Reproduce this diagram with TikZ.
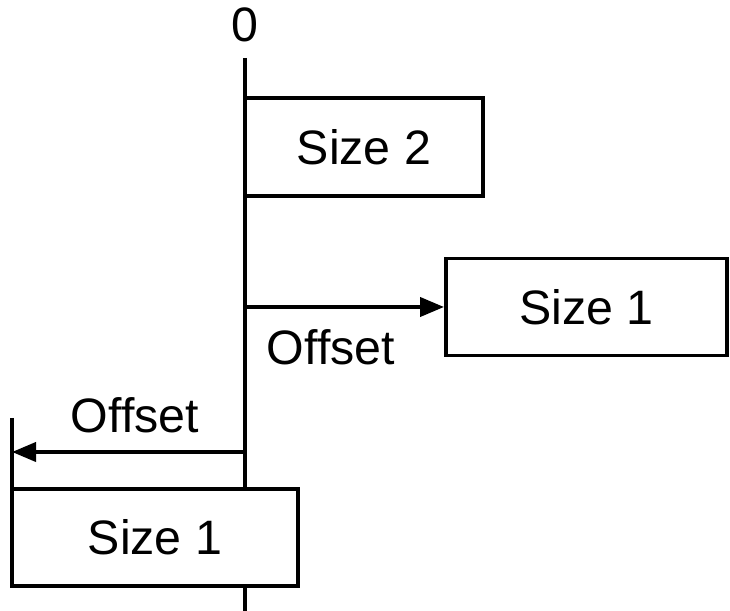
\documentclass[tikz,border=0pt]{standalone}
\usepackage{fontspec}
\setmainfont{Liberation Sans}
\usetikzlibrary{arrows.meta}

\begin{document}
\begin{tikzpicture}[
		line width=2.2pt,
		sizebox/.style={draw, inner sep=0pt, minimum height=1.94cm},
		offarrow/.style={-{Triangle[length=0.48cm,width=0.38cm]}},
		lbl/.style={font=\fontsize{27.5}{32}\selectfont}
	]
	\useasboundingbox (0,0) rectangle (14.6,-12.22);
	% the zero line
	\coordinate (top) at (4.9,-1.16);
	\coordinate (bot) at (4.9,-12.22);
	\node[lbl] (zero) at (4.9,-0.5) {0};
	% the three blocks
	\node[sizebox, lbl, minimum width=4.76cm, minimum height=1.96cm] (sztwo) at (7.28,-2.94) {Size 2};
	\node[sizebox, lbl, minimum width=5.62cm] (szright) at (11.73,-6.14) {Size 1};
	\node[sizebox, lbl, minimum width=5.72cm] (szleft) at (3.10,-10.75) {Size 1};
	\draw (top) -- (top |- szleft.north);
	\draw (top |- szleft.south) -- (bot);
	% positive offset
	\draw[offarrow] (top |- szright.west) -- (szright.west);
	\node[lbl] (offright) at (6.62,-6.94) {Offset};
	% negative offset
	\coordinate (tickA) at (0.24,-8.36);
	\coordinate (tickB) at (0.24,-10.10);
	\coordinate (tickM) at (0.24,-9.04);
	\draw (tickA) -- (tickB);
	\draw[offarrow] (top |- tickM) -- (tickM);
	\node[lbl] (offleft) at (2.7,-8.3) {Offset};
\end{tikzpicture}
\end{document}
